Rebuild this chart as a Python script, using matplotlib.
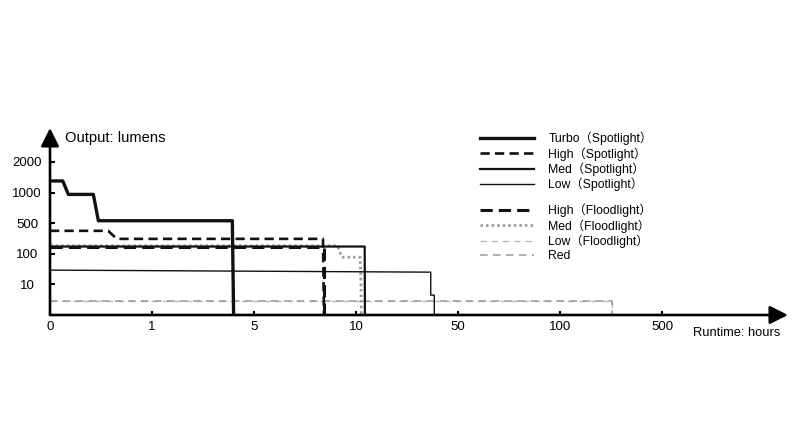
import numpy as np
import matplotlib
matplotlib.use('Agg')
import matplotlib.pyplot as plt
from matplotlib.lines import Line2D

plt.rcParams['font.family'] = ['Liberation Sans', 'Noto Sans CJK SC', 'DejaVu Sans']

# breakpoints of the uneven axes (each tick is the same distance apart)
x_breaks = [0, 1, 5, 10, 50, 100, 500]
y_breaks = [0, 10, 100, 500, 1000, 2000]
x_tick_labels = ['0', '1', '5', '10', '50', '100', '500']
y_tick_labels = ['10', '100', '500', '1000', '2000']

# runtime (hours) / output (lumens) for each mode
turbo_t = [0, 0.125, 0.18, 0.425, 0.474, 4.15, 4.2]
turbo_l = [1380, 1380, 970, 970, 540, 540, 0]

high_spot_t = [0, 0.57, 0.655, 8.38, 8.43]
high_spot_l = [400, 400, 295, 295, 0]

med_spot_t = [0, 13.4, 13.5]
med_spot_l = [195, 195, 0]

low_spot_t = [0, 39.3, 39.3, 40.7, 40.7]
low_spot_l = [52, 46, 6.5, 6.5, 0]

high_flood_t = [0, 8.43, 8.43]
high_flood_l = [190, 190, 0]

med_flood_t = [0, 9.1, 9.3, 11.6, 11.9, 12.1]
med_flood_l = [205, 205, 90, 90, 25, 0]

low_flood_t = [0, 302, 302]
low_flood_l = [4.7, 4.7, 0]

red_t = [0, 302, 302]
red_l = [4.7, 4.7, 0]


def make_scale(breaks):
    pos = np.arange(len(breaks), dtype=float)
    b = np.array(breaks, dtype=float)
    last_step = b[-1] - b[-2]

    def fwd(v):
        v = np.asarray(v, dtype=float)
        return np.where(v > b[-1], pos[-1] + (v - b[-1]) / last_step, np.interp(v, b, pos))

    def inv(p):
        p = np.asarray(p, dtype=float)
        return np.where(p > pos[-1], b[-1] + (p - pos[-1]) * last_step, np.interp(p, pos, b))

    return fwd, inv


fig = plt.figure(figsize=(8, 4.47), dpi=100)
ax = fig.add_axes([50 / 800, 132 / 447, 738 / 800, 187 / 447])
ax.set_xscale('function', functions=make_scale(x_breaks))
ax.set_yscale('function', functions=make_scale(y_breaks))
ax.set_xlim(0, 994)
ax.set_ylim(0, 3110)

gray_dots = '#9c9c9c'
styles = {
    'Low（Floodlight）': dict(color='#b4b4b4', lw=0.9, dashes=(5, 4)),
    'Red': dict(color='#999999', lw=1.1, dashes=(5, 3.5)),
    'Med（Floodlight）': dict(color=gray_dots, lw=2.0, linestyle=(0, (0.9, 1.1))),
    'High（Floodlight）': dict(color='#111111', lw=2.2, dashes=(4, 2)),
    'Low（Spotlight）': dict(color='#111111', lw=1.0),
    'Med（Spotlight）': dict(color='#111111', lw=1.6),
    'High（Spotlight）': dict(color='#111111', lw=1.9, dashes=(3.5, 2)),
    'Turbo（Spotlight）': dict(color='#111111', lw=2.4),
}

ax.plot(low_flood_t, low_flood_l, **styles['Low（Floodlight）'])
ax.plot(red_t, red_l, **styles['Red'])
ax.plot(high_flood_t, high_flood_l, **styles['High（Floodlight）'])
ax.plot(med_flood_t, med_flood_l, **styles['Med（Floodlight）'])
ax.plot(low_spot_t, low_spot_l, **styles['Low（Spotlight）'])
ax.plot(med_spot_t, med_spot_l, **styles['Med（Spotlight）'])
ax.plot(high_spot_t, high_spot_l, **styles['High（Spotlight）'])
ax.plot(turbo_t, turbo_l, **styles['Turbo（Spotlight）'])

# axes drawn as arrows
for spine in ax.spines.values():
    spine.set_visible(False)
arrow = dict(arrowstyle='-|>,head_length=1.1,head_width=0.55', lw=1.9, color='black',
             shrinkA=0, shrinkB=0, mutation_scale=10)
ax.annotate('', xy=(1, 0), xytext=(0, 0), xycoords='axes fraction', arrowprops=arrow)
ax.annotate('', xy=(0, 1), xytext=(0, 0), xycoords='axes fraction', arrowprops=arrow)

ax.set_xticks(x_breaks)
ax.set_xticklabels(x_tick_labels)
ax.set_yticks(y_breaks[1:])
ax.set_yticklabels(y_tick_labels)
ax.tick_params(axis='x', direction='in', length=3, width=1.5, pad=4.5, labelsize=9.5)
ax.tick_params(axis='y', direction='in', length=3.6, width=1.5, pad=16.5, labelsize=9.5)
for lbl in ax.get_yticklabels():
    lbl.set_horizontalalignment('center')

fig.text(65 / 800, 1 - 138 / 447, 'Output: lumens', fontsize=10.6, va='center', ha='left')
fig.text(693 / 800, 1 - 333 / 447, 'Runtime: hours', fontsize=9.3, va='center', ha='left')

names1 = ['Turbo（Spotlight）', 'High（Spotlight）', 'Med（Spotlight）', 'Low（Spotlight）']
names2 = ['High（Floodlight）', 'Med（Floodlight）', 'Low（Floodlight）', 'Red']
leg_kw = dict(frameon=False, fontsize=8.8, handlelength=4.4, handletextpad=1.2,
              borderpad=0, borderaxespad=0, labelspacing=0.15, loc='upper left')
leg1 = ax.legend([Line2D([], [], **styles[n]) for n in names1], names1,
                 bbox_to_anchor=(480 / 800, 1 - 132 / 447), bbox_transform=fig.transFigure, **leg_kw)
ax.add_artist(leg1)
ax.legend([Line2D([], [], **styles[n]) for n in names2], names2,
          bbox_to_anchor=(480 / 800, 1 - 204 / 447), bbox_transform=fig.transFigure, **leg_kw)

fig.savefig('out.png', dpi=100)
